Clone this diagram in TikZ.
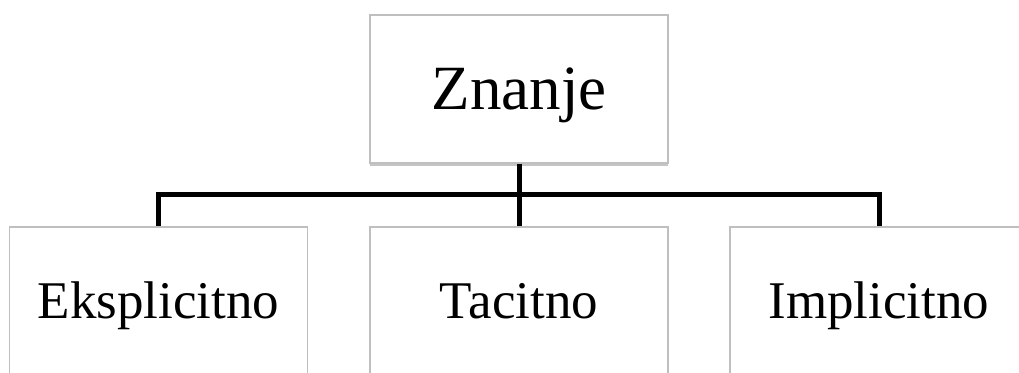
\documentclass[tikz,border=0pt]{standalone}
\usepackage{fontspec}
\setmainfont{Liberation Serif}
\usetikzlibrary{calc,shadows}
\begin{document}
\begin{tikzpicture}[x=1pt,y=1pt,
  box/.style={draw=gray!50, line width=1.8pt, fill=white,
    minimum width=298pt, minimum height=148pt, inner sep=0pt,
    drop shadow={shadow xshift=0pt, shadow yshift=-3.5pt, opacity=0.45, fill=gray}},
  conn/.style={line width=5pt, black, line join=miter},
  bigtxt/.style={font=\fontsize{63}{70}\selectfont, inner sep=0pt, anchor=base},
  txt/.style={font=\fontsize{53}{60}\selectfont, inner sep=0pt, anchor=base}]
\useasboundingbox (0,0) rectangle (1019,372);
\fill[white] (0,0) rectangle (1019,372);

% boxes
\node[box] (top) at (519,283) {};
\node[box] (left) at (158.5,71) {};
\node[box] (mid) at (519,71) {};
\node[box] (right) at (879,71) {};

% connectors
\coordinate (bus) at (519,177);
\draw[conn] (left.north) -- (left.north |- bus) -- (right.north |- bus) -- (right.north);
\draw[conn] (top.south) -- (mid.north);

% labels
\node[bigtxt] (ttop) at ($(top.center)+(0,-21)$) {Znanje};
\node[txt] (tleft) at ($(left.center)+(0,-17.5)$) {Eksplicitno};
\node[txt] (tmid) at ($(mid.center)+(0,-17.5)$) {Tacitno};
\node[txt] (tright) at ($(right.center)+(0,-17.5)$) {Implicitno};
\end{tikzpicture}
\end{document}
